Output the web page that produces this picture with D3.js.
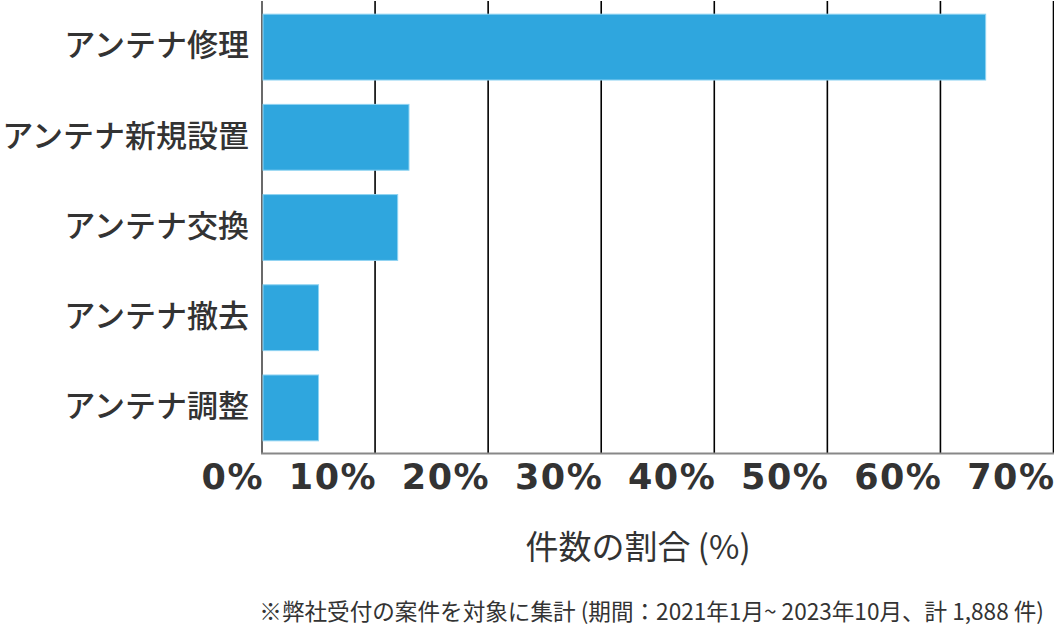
<!DOCTYPE html>
<html>
<head>
<meta charset="utf-8">
<script src="https://cdn.jsdelivr.net/npm/d3@7"></script>
<style>
  body { margin: 0; background: #fff; }
  svg text { fill: #333; }
</style>
</head>
<body>
<div id="chart"></div>
<script>
// data
const categories = ["アンテナ修理", "アンテナ新規設置", "アンテナ交換", "アンテナ撤去", "アンテナ調整"];
const shares = [64, 13, 12, 5, 5];
const tickValues = [0, 10, 20, 30, 40, 50, 60, 70];
const axisTitle = "件数の割合 (%)";
const footnote = "※弊社受付の案件を対象に集計 (期間：2021年1月~ 2023年10月、計 1,888 件)";

const width = 1054, height = 629;
const plotLeft = 262, plotRight = 1053.5, plotTop = 2, plotBottom = 453;

let svg = d3.select("#chart")
    .append("svg")
    .attr("width", width)
    .attr("height", height);

let xScale = d3.scaleLinear()
    .domain([0, 70])
    .range([plotLeft, plotRight]);

let yScale = d3.scaleBand()
    .domain(categories)
    .range([plotTop, plotBottom])
    .paddingInner(0.27)
    .paddingOuter(0.135);

// grid lines
svg.append("g")
    .selectAll("line")
    .data(tickValues)
    .enter()
    .append("line")
    .attr("x1", d => xScale(d))
    .attr("x2", d => xScale(d))
    .attr("y1", 1)
    .attr("y2", plotBottom)
    .attr("stroke", d => d === 0 ? "#444" : "#000")
    .attr("stroke-width", 1.6);

// bars
svg.append("g")
    .selectAll("rect")
    .data(shares)
    .enter()
    .append("rect")
    .attr("x", xScale(0) + 1)
    .attr("y", (d, i) => yScale(categories[i]))
    .attr("width", d => xScale(d) - xScale(0) - 1)
    .attr("height", yScale.bandwidth())
    .attr("fill", "#2fa6de")
    .attr("stroke", "#8fd3f2")
    .attr("stroke-width", 1);

// bottom axis line
svg.append("line")
    .attr("x1", plotLeft - 1)
    .attr("x2", plotRight + 1)
    .attr("y1", plotBottom + 0.5)
    .attr("y2", plotBottom + 0.5)
    .attr("stroke", "#888")
    .attr("stroke-width", 2.2);

// x tick labels
let xAxis = d3.axisBottom(xScale)
    .tickValues(tickValues)
    .tickFormat(d => d + "%")
    .tickSize(0);
let xg = svg.append("g")
    .attr("transform", "translate(0," + plotBottom + ")")
    .call(xAxis);
xg.select(".domain").remove();
xg.selectAll("text")
    .attr("text-anchor", "end")
    .attr("y", 0)
    .attr("dy", 0)
    .attr("transform", "translate(1.5,36)")
    .attr("font-family", "'DejaVu Sans', sans-serif")
    .attr("font-weight", "bold")
    .attr("font-size", "35px")
    .attr("letter-spacing", "1.5px")
    .style("fill", "#333");

// category labels
let yAxis = d3.axisLeft(yScale).tickSize(0).tickPadding(13);
let yg = svg.append("g")
    .attr("transform", "translate(" + plotLeft + ",0)")
    .call(yAxis);
yg.select(".domain").remove();
yg.selectAll("text")
    .attr("font-family", "'Noto Sans CJK JP', sans-serif")
    .attr("font-size", "31px")
    .attr("font-weight", 500)
    .attr("dy", "0.3em")
    .style("fill", "#333");

// axis title
svg.append("text")
    .attr("x", 638)
    .attr("y", 559)
    .attr("text-anchor", "middle")
    .attr("font-family", "'Noto Sans CJK JP', sans-serif")
    .attr("font-size", "33px")
    .text(axisTitle);

// footnote
svg.append("text")
    .attr("x", 1044)
    .attr("y", 620)
    .attr("text-anchor", "end")
    .attr("font-family", "'Noto Sans CJK JP', sans-serif")
    .attr("font-size", "22.6px")
    .text(footnote);
</script>
</body>
</html>
